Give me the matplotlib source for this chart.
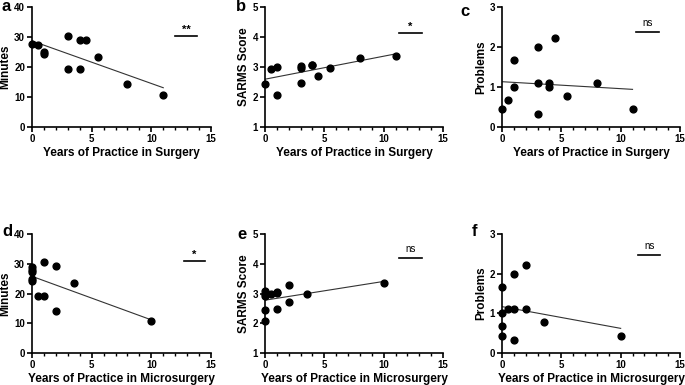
import numpy as np
import matplotlib
matplotlib.use("Agg")
import matplotlib.pyplot as plt

plt.rcParams['font.family'] = ['Liberation Sans', 'DejaVu Sans']

# years of practice
surgYears = [0, 0.5, 1, 1, 3, 3, 3, 4, 4, 4.5, 5.5, 8, 11]
microYears = [0, 0, 0, 0, 0, 0.5, 1, 1, 1, 2, 2, 3.5, 10]

# minutes (12 points each)
surgMinYears = [0, 0.5, 1, 1, 3, 3, 4, 4, 4.5, 5.5, 8, 11]
surgMinutes = [27.8, 27.2, 25.0, 24.3, 30.5, 19.2, 29.0, 19.2, 29.1, 23.5, 14.2, 10.8]
microMinYears = [0, 0, 0, 0, 0, 0.5, 1, 1, 2, 2, 3.5, 10]
microMinutes = [29.0, 28.0, 27.2, 25.0, 24.3, 19.2, 30.5, 19.2, 29.1, 14.2, 23.5, 10.8]

# SARMS score
surgSarms = [2.45, 2.92, 3.0, 2.08, 3.03, 2.98, 2.47, 3.08, 3.08, 2.7, 2.98, 3.3, 3.36]
microSarms = [3.08, 3.0, 2.92, 2.45, 2.08, 2.98, 3.05, 3.03, 2.47, 3.3, 2.7, 2.98, 3.36]

# problems
surgProbYears = [0, 0.5, 1, 1, 3, 3, 3, 4, 4, 4.5, 5.5, 8, 11]
surgProblems = [0.44, 0.67, 1.67, 1.0, 2.0, 1.11, 0.33, 1.11, 1.0, 2.22, 0.78, 1.11, 0.44]
microProbYears = [0, 0, 0, 0, 0.5, 1, 1, 1, 2, 2, 3.5, 10]
microProblems = [1.67, 1.0, 0.67, 0.44, 1.11, 2.0, 1.11, 0.33, 2.22, 1.11, 0.78, 0.44]

W, H = 685, 385
fig = plt.figure(figsize=(W / 100, H / 100), dpi=100)


def pixAxes(left, right, top, bottom):
    return fig.add_axes([left / W, (H - bottom) / H, (right - left) / W, (bottom - top) / H])


def panel(ax, x, y, ylim, yticks, ylabel, xlabel, sig, sigX, sigY, letter, letterPos):
    ax.scatter(x, y, s=24, color='black', zorder=3, clip_on=False)
    slope, icpt = np.polyfit(x, y, 1)
    xs = np.array([min(x), max(x)])
    ax.plot(xs, slope * xs + icpt, color='#333333', lw=0.8)
    ax.set_xlim(0, 15)
    ax.set_ylim(*ylim)
    ax.set_xticks([0, 5, 10, 15])
    ax.set_xticks(np.arange(0, 16, 1), minor=True)
    ax.set_yticks(yticks)
    for s in ['top', 'right']:
        ax.spines[s].set_visible(False)
    for s in ['left', 'bottom']:
        ax.spines[s].set_linewidth(1.2)
    ax.tick_params(which='major', length=3.5, width=1.2, labelsize=7, pad=1.5)
    ax.tick_params(which='minor', length=2.5, width=1.0)
    for lab in ax.get_xticklabels() + ax.get_yticklabels():
        lab.set_fontweight('bold')
    ax.set_ylabel(ylabel, fontsize=8.5, fontweight='bold', labelpad=2)
    ax.set_xlabel(xlabel, fontsize=8.5, fontweight='bold', labelpad=2)
    ax.plot(sigX, [sigY, sigY], color='black', lw=1.2, clip_on=False)
    span = ylim[1] - ylim[0]
    if sig == 'ns':
        ax.text(np.mean(sigX), sigY + span * 0.03, sig, ha='center', va='bottom', fontsize=7)
    else:
        ax.text(np.mean(sigX), sigY + span * 0.01, sig, ha='center', va='bottom', fontsize=8, fontweight='bold')
    fig.text(letterPos[0] / W, 1 - letterPos[1] / H, letter, fontsize=12, fontweight='bold', ha='left', va='top')


axA = pixAxes(32, 211, 7, 127)
axB = pixAxes(265, 443, 7, 127)
axC = pixAxes(502, 680, 7, 127)
axD = pixAxes(32, 211, 234, 353)
axE = pixAxes(265, 443, 234, 353)
axF = pixAxes(502, 680, 234, 353)

panel(axA, surgMinYears, surgMinutes, (0, 40), [0, 10, 20, 30, 40], 'Minutes',
      'Years of Practice in Surgery', '**', [12, 13.8], 30.3, 'a', (2, -1))
panel(axB, surgYears, surgSarms, (1, 5), [1, 2, 3, 4, 5], 'SARMS Score',
      'Years of Practice in Surgery', '*', [11.3, 13.2], 4.12, 'b', (236, -1))
panel(axC, surgProbYears, surgProblems, (0, 3), [0, 1, 2, 3], 'Problems',
      'Years of Practice in Surgery', 'ns', [11.3, 13.2], 2.38, 'c', (460, 4))
panel(axD, microMinYears, microMinutes, (0, 40), [0, 10, 20, 30, 40], 'Minutes',
      'Years of Practice in Microsurgery', '*', [12.7, 14.5], 30.8, 'd', (2, 224))
panel(axE, microYears, microSarms, (1, 5), [1, 2, 3, 4, 5], 'SARMS Score',
      'Years of Practice in Microsurgery', 'ns', [11.3, 13.2], 4.2, 'e', (237, 227))
panel(axF, microProbYears, microProblems, (0, 3), [0, 1, 2, 3], 'Problems',
      'Years of Practice in Microsurgery', 'ns', [11.5, 13.3], 2.48, 'f', (472, 224))

fig.savefig('out.png', dpi=100)
